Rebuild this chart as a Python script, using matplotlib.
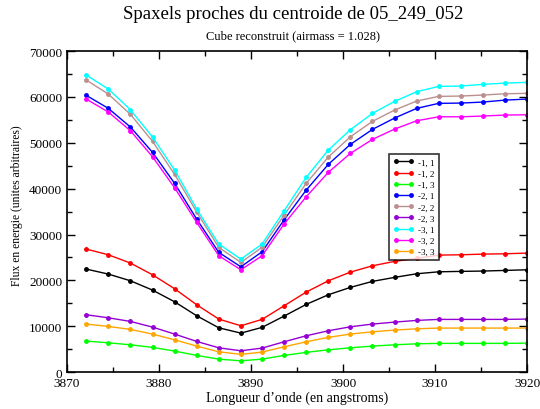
import numpy as np
import matplotlib
matplotlib.use('Agg')
import matplotlib.pyplot as plt
from matplotlib.ticker import MultipleLocator

plt.rcParams['font.family'] = ['Liberation Serif', 'DejaVu Serif']

# longueurs d'onde des spaxels
lam = [3872.1, 3874.5, 3876.9, 3879.3, 3881.7, 3884.1, 3886.5, 3888.9, 3891.2, 3893.6,
       3896.0, 3898.4, 3900.8, 3903.2, 3905.6, 3908.0, 3910.4, 3912.8, 3915.2, 3917.6, 3920.0]

f_m1_1 = [22460, 21370, 19910, 17880, 15330, 12280, 9660, 8500, 9750, 12210, 14760,
          16860, 18470, 19780, 20650, 21440, 21870, 21960, 22030, 22170, 22310]
f_m1_2 = [26820, 25580, 23770, 21220, 18170, 14680, 11560, 10100, 11490, 14460, 17450,
          19910, 21800, 23180, 24140, 24790, 25510, 25580, 25730, 25800, 25950]
f_m1_3 = [6760, 6390, 5950, 5390, 4580, 3640, 2830, 2460, 2830, 3640, 4300,
          4860, 5300, 5670, 5950, 6170, 6260, 6260, 6260, 6260, 6320]
f_m2_1 = [60340, 57500, 53430, 47910, 41150, 33360, 26100, 22960, 26230, 33210, 39690,
          45290, 49650, 52920, 55390, 57500, 58600, 58660, 58880, 59310, 59530]
f_m2_2 = [63680, 60620, 56200, 50310, 43110, 34890, 27190, 23920, 27190, 34240, 41150,
          46890, 51310, 54670, 57130, 59100, 60120, 60190, 60410, 60690, 60780]
f_m2_3 = [12500, 11840, 11050, 9810, 8290, 6690, 5300, 4650, 5230, 6610, 7920,
          9010, 9880, 10470, 10900, 11270, 11490, 11490, 11490, 11490, 11560]
f_m3_1 = [64770, 61710, 57200, 51250, 44050, 35550, 27910, 24640, 27910, 35180, 42460,
          48410, 52840, 56410, 59030, 61130, 62300, 62370, 62740, 63020, 63170]
f_m3_2 = [59530, 56700, 52620, 46950, 40190, 32640, 25370, 22310, 25370, 32300, 38230,
          43550, 47690, 50740, 52990, 54800, 55670, 55670, 55830, 56050, 56110]
f_m3_3 = [10470, 9960, 9310, 8290, 7040, 5670, 4430, 3860, 4360, 5520, 6610,
          7570, 8290, 8790, 9160, 9440, 9600, 9600, 9600, 9600, 9600]

noms = ['-1, 1', '-1, 2', '-1, 3', '-2, 1', '-2, 2', '-2, 3', '-3, 1', '-3, 2', '-3, 3']
flux = [f_m1_1, f_m1_2, f_m1_3, f_m2_1, f_m2_2, f_m2_3, f_m3_1, f_m3_2, f_m3_3]
couleurs = ['black', '#ff0000', '#00ff00', '#0000ff', '#bc8f8f', '#9400d3',
            '#00ffff', '#ff00ff', '#ffa500']

fig = plt.figure(figsize=(5.4, 4.1), dpi=100)
ax = fig.add_axes([0.124, 0.090, 0.852, 0.783])

for nom, f, c in zip(noms, flux, couleurs):
    ax.plot(lam, f, color=c, lw=1.0, marker='o', ms=2.5, label=nom)

ax.set_xlim(3870, 3920)
ax.set_ylim(0, 70000)
ax.xaxis.set_major_locator(MultipleLocator(10))
ax.xaxis.set_minor_locator(MultipleLocator(5))
ax.yaxis.set_major_locator(MultipleLocator(10000))
ax.yaxis.set_minor_locator(MultipleLocator(5000))
ax.tick_params(which='both', direction='in', top=True, right=True, labelsize=9.5, width=1.0)
ax.tick_params(which='major', length=6)
ax.tick_params(which='minor', length=3.5)
for s in ax.spines.values():
    s.set_linewidth(1.2)

ax.set_xlabel('Longueur d\u2019onde (en angstroms)', fontsize=10, labelpad=1)
ax.set_ylabel('Flux en energie (unites arbitraires)', fontsize=8.4)
ax.yaxis.set_label_coords(-0.096, 0.52)

fig.text(0.543, 0.965, 'Spaxels proches du centroide de 05_249_052', ha='center', va='center', fontsize=13.5)
fig.text(0.543, 0.912, 'Cube reconstruit (airmass = 1.028)', ha='center', va='center', fontsize=9)

leg = ax.legend(loc='upper left', bbox_to_anchor=(0.70, 0.679), borderaxespad=0, fontsize=6.5,
                frameon=True, fancybox=False, handlelength=2.3, handletextpad=0.5,
                labelspacing=0.32, borderpad=0.45, numpoints=2)
leg.get_frame().set_edgecolor('black')
leg.get_frame().set_linewidth(1.2)

fig.savefig('out.png', dpi=100)
